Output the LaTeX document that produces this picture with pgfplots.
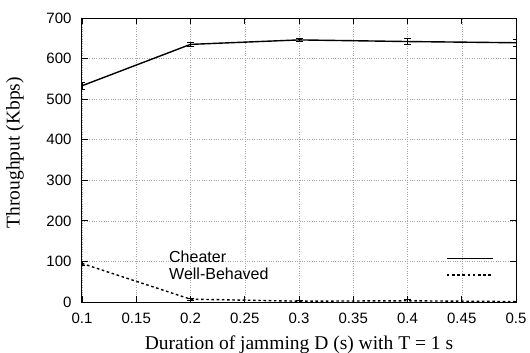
\documentclass[border=0pt]{standalone}
\usepackage{fontspec}
\setmainfont{Liberation Serif}
\newfontfamily\ticksans{Liberation Sans}
\usepackage{pgfplots}
\pgfplotsset{compat=1.18}

\begin{document}
\begin{tikzpicture}
\path[use as bounding box] (-82bp,-51bp) rectangle (448bp,302bp);
\begin{axis}[
  scale only axis,
  width=434bp, height=284bp,
  xmin=0.1, xmax=0.5, ymin=0, ymax=700,
  xtick={0.1,0.15,...,0.5},
  ytick={0,100,...,700},
  /pgf/number format/assume math mode=true,
  xticklabel style={/pgf/number format/fixed, /pgf/number format/precision=2, yshift=-8bp},
  yticklabel style={xshift=-7bp},
  tick label style={font=\ticksans\fontsize{15bp}{17bp}\selectfont},
  label style={font=\fontsize{19.5bp}{22bp}\selectfont},
  xlabel={Duration of jamming D (s) with T = 1 s},
  xlabel style={at={(axis description cs:0.5,-0.169)}, anchor=base},
  ylabel={Throughput (Kbps)},
  ylabel style={at={(axis description cs:-0.1544,0.526)}, anchor=center},
  axis line style={black, line width=1bp},
  tick style={black, line width=0.9bp},
  tick align=inside,
  major tick length=6bp,
  xtick pos=both, ytick pos=both,
  grid=major,
  major grid style={gray!70, dotted, line width=0.5bp},
  legend plot pos=right,
  legend style={
    at={(83bp,54bp)}, anchor=north west,
    draw=none, fill=none,
    font=\ticksans\fontsize{16bp}{17bp}\selectfont,
    row sep=0bp,
    nodes={text width=276bp, align=left, inner sep=1bp, text height=11.5bp, text depth=3bp},
  },
  legend image code/.code={\draw[#1, line width=1.4bp] (0bp,0bp) -- (46bp,0bp);},
]
% Cheater
\addplot[black, line width=1.4bp, mark=none,
  error bars/.cd, y dir=both, y explicit,
  error bar style={line width=0.9bp, solid}, error mark options={rotate=90, mark size=3.5bp, line width=0.9bp}]
  coordinates {
    (0.1,533) +- (0,9)
    (0.2,635) +- (0,5)
    (0.3,646) +- (0,4)
    (0.4,642) +- (0,8)
    (0.5,639) +- (0,9)
  };
\addlegendentry{Cheater}
% Well-Behaved
\addplot[black, line width=1.4bp, dash pattern=on 2.6bp off 2.6bp, mark=none,
  error bars/.cd, y dir=both, y explicit,
  error bar style={line width=0.9bp, solid}, error mark options={rotate=90, mark size=3.5bp, line width=0.9bp, solid}]
  coordinates {
    (0.1,95) +- (0,5)
    (0.2,7) +- (0,2)
    (0.3,2) +- (0,2)
    (0.4,3) +- (0,3)
    (0.5,1) +- (0,1)
  };
\addlegendentry{Well-Behaved}
\end{axis}
\end{tikzpicture}
\end{document}
